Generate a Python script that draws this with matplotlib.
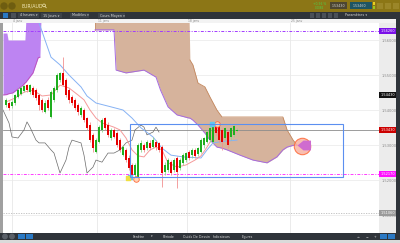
import numpy as np
import matplotlib.pyplot as plt
from matplotlib.patches import Rectangle

# bougies 4 heures EUR/AUD
opens = [1.5414, 1.5420, 1.5411, 1.5420, 1.5437, 1.5446, 1.5454, 1.5471, 1.5451, 1.5463,
         1.5457, 1.5443, 1.5429, 1.5394, 1.5429, 1.5380, 1.5429, 1.5457, 1.5486, 1.5506,
         1.5486, 1.5457, 1.5437, 1.5429, 1.5414, 1.5386, 1.5400, 1.5377, 1.5357, 1.5329,
         1.5280, 1.5309, 1.5343, 1.5377, 1.5357, 1.5320, 1.5343, 1.5334, 1.5314, 1.5271,
         1.5286, 1.5263, 1.5243, 1.5214, 1.5209, 1.5286, 1.5300, 1.5291, 1.5306, 1.5294,
         1.5309, 1.5306, 1.5294, 1.5223, 1.5229, 1.5251, 1.5229, 1.5263, 1.5234, 1.5249,
         1.5257, 1.5280, 1.5271, 1.5286, 1.5274, 1.5280, 1.5300, 1.5309, 1.5314, 1.5309,
         1.5351, 1.5357, 1.5343, 1.5320, 1.5337, 1.5323, 1.5329, 1.5340]
highs = [1.5434, 1.5426, 1.5429, 1.5446, 1.5463, 1.5469, 1.5471, 1.5474, 1.5474, 1.5469,
         1.5463, 1.5446, 1.5434, 1.5429, 1.5437, 1.5457, 1.5469, 1.5506, 1.5509, 1.5551,
         1.5491, 1.5463, 1.5443, 1.5434, 1.5420, 1.5411, 1.5406, 1.5380, 1.5366, 1.5334,
         1.5320, 1.5357, 1.5377, 1.5380, 1.5366, 1.5349, 1.5349, 1.5340, 1.5320, 1.5300,
         1.5291, 1.5271, 1.5249, 1.5249, 1.5306, 1.5314, 1.5306, 1.5314, 1.5314, 1.5323,
         1.5314, 1.5309, 1.5300, 1.5251, 1.5263, 1.5257, 1.5263, 1.5269, 1.5263, 1.5277,
         1.5280, 1.5286, 1.5291, 1.5291, 1.5294, 1.5320, 1.5323, 1.5343, 1.5351, 1.5366,
         1.5357, 1.5363, 1.5349, 1.5351, 1.5343, 1.5351, 1.5357, 1.5349]
lows = [1.5409, 1.5400, 1.5406, 1.5414, 1.5434, 1.5443, 1.5451, 1.5451, 1.5446, 1.5437,
        1.5429, 1.5400, 1.5394, 1.5391, 1.5400, 1.5377, 1.5423, 1.5451, 1.5480, 1.5469,
        1.5437, 1.5420, 1.5414, 1.5400, 1.5386, 1.5380, 1.5366, 1.5343, 1.5309, 1.5280,
        1.5277, 1.5306, 1.5337, 1.5343, 1.5323, 1.5314, 1.5320, 1.5294, 1.5280, 1.5269,
        1.5251, 1.5229, 1.5206, 1.5209, 1.5206, 1.5280, 1.5280, 1.5286, 1.5286, 1.5291,
        1.5286, 1.5280, 1.5180, 1.5214, 1.5223, 1.5214, 1.5223, 1.5177, 1.5229, 1.5243,
        1.5251, 1.5257, 1.5263, 1.5263, 1.5269, 1.5277, 1.5291, 1.5306, 1.5309, 1.5306,
        1.5329, 1.5309, 1.5286, 1.5314, 1.5291, 1.5314, 1.5323, 1.5337]
closes = [1.5429, 1.5406, 1.5423, 1.5443, 1.5457, 1.5463, 1.5469, 1.5457, 1.5471, 1.5443,
          1.5434, 1.5414, 1.5400, 1.5420, 1.5406, 1.5451, 1.5463, 1.5500, 1.5506, 1.5471,
          1.5443, 1.5429, 1.5420, 1.5406, 1.5394, 1.5406, 1.5371, 1.5349, 1.5314, 1.5291,
          1.5314, 1.5351, 1.5371, 1.5349, 1.5329, 1.5343, 1.5323, 1.5300, 1.5286, 1.5294,
          1.5257, 1.5234, 1.5209, 1.5243, 1.5300, 1.5306, 1.5286, 1.5309, 1.5291, 1.5314,
          1.5294, 1.5286, 1.5220, 1.5243, 1.5257, 1.5220, 1.5257, 1.5223, 1.5257, 1.5271,
          1.5277, 1.5263, 1.5286, 1.5269, 1.5291, 1.5314, 1.5320, 1.5337, 1.5349, 1.5357,
          1.5334, 1.5314, 1.5309, 1.5349, 1.5300, 1.5349, 1.5354, 1.5343]

# Ichimoku : tenkan (rose), kijun (bleu), chikou (gris)
tenkan_idx = [0, 3, 6, 9, 12, 15, 18, 21, 24, 26, 28, 30, 32, 36, 38, 40, 42, 44, 46, 48,
              50, 52, 54, 57, 60, 63, 65, 67, 69, 71, 74, 77]
tenkan = [1.5423, 1.5434, 1.5451, 1.5457, 1.5440, 1.5443, 1.5471, 1.5463, 1.5443, 1.5429,
          1.5400, 1.5377, 1.5363, 1.5351, 1.5343, 1.5320, 1.5286, 1.5269, 1.5266, 1.5286,
          1.5294, 1.5286, 1.5249, 1.5237, 1.5243, 1.5257, 1.5269, 1.5294, 1.5323, 1.5337,
          1.5337, 1.5337]
kijun_idx = [11, 13, 15, 18, 21, 25, 27, 30, 35, 39, 42, 45, 49, 52, 55, 59, 65, 67, 69, 73, 77]
kijun = [1.5649, 1.5600, 1.5551, 1.5529, 1.5500, 1.5466, 1.5440, 1.5420, 1.5409, 1.5400,
         1.5377, 1.5349, 1.5323, 1.5291, 1.5271, 1.5266, 1.5263, 1.5286, 1.5306, 1.5311, 1.5314]
chikou_idx = [-1, 1, 2, 4, 6, 7, 8, 10, 11, 13, 15, 16, 18, 20, 21, 22, 25, 26, 27, 29,
              30, 32, 34, 36, 38, 40, 42, 43, 45, 46, 47, 49, 50, 51]
chikou = [1.5400, 1.5363, 1.5323, 1.5320, 1.5343, 1.5366, 1.5351, 1.5314, 1.5306, 1.5306,
          1.5286, 1.5277, 1.5220, 1.5257, 1.5294, 1.5314, 1.5306, 1.5271, 1.5220, 1.5237,
          1.5257, 1.5251, 1.5277, 1.5277, 1.5286, 1.5306, 1.5314, 1.5343, 1.5357, 1.5351,
          1.5329, 1.5337, 1.5351, 1.5337]

# nuage violet (gauche)
kumo1_idx = [-1, 0.3, 0.7, 2.3, 5.7, 6.3, 6.7, 9, 10.7, 11.3, 11.7]
kumo1_top = [1.5620, 1.5620, 1.5600, 1.5600, 1.5600, 1.5600, 1.5671, 1.5671, 1.5671, 1.5671, 1.5671]
kumo1_bot = [1.5443, 1.5444, 1.5446, 1.5449, 1.5471, 1.5477, 1.5480, 1.5506, 1.5549, 1.5551, 1.5671]
# nuage brun
kumo2_idx = [29.7, 36, 36.7, 40, 46, 50, 51.5, 54, 57, 61, 61.3, 62.3, 64, 66.3, 68, 70.3,
             72, 73.7, 78, 82.3, 87, 90.3, 92.3, 93.7, 95.7, 97]
kumo2_top = [1.5671, 1.5671, 1.5671, 1.5671, 1.5671, 1.5671, 1.5671, 1.5671, 1.5671, 1.5671,
             1.5543, 1.5529, 1.5477, 1.5466, 1.5437, 1.5400, 1.5380, 1.5380, 1.5380, 1.5380,
             1.5380, 1.5380, 1.5380, 1.5343, 1.5314, 1.5300]
kumo2_bot = [1.5629, 1.5629, 1.5514, 1.5506, 1.5514, 1.5494, 1.5457, 1.5409, 1.5386, 1.5377,
             1.5377, 1.5371, 1.5357, 1.5334, 1.5314, 1.5294, 1.5291, 1.5286, 1.5271, 1.5257,
             1.5249, 1.5266, 1.5286, 1.5294, 1.5299, 1.5300]
# petit nuage après le croisement
kumo3_idx = [97, 99, 101.5]
kumo3_top = [1.5300, 1.5314, 1.5314]
kumo3_bot = [1.5300, 1.5286, 1.5286]

price_levels = [1.56, 1.55, 1.54, 1.53, 1.52, 1.51]
date_pos = [2, 30.3, 60.3, 94.7]
date_labels = ['4 janv', '11 janv', '18 janv', '25 janv']
box_zone = [41.3, 1.5209, 112.3, 1.5360]

W, H = 400, 243
fig = plt.figure(figsize=(4, 2.43), dpi=100)
bg = fig.add_axes([0, 0, 1, 1])
bg.set_xlim(0, W)
bg.set_ylim(H, 0)
bg.axis('off')


def box(x, y, w, h, c):
    bg.add_patch(Rectangle((x, y), w, h, color=c, lw=0))


def txt(x, y, s, c='#d8d8d8', fs=2.6, **kw):
    bg.text(x, y, s, color=c, fontsize=fs, va='center', **kw)


# habillage de la plateforme
box(0, 0, W, H, '#dadada')
box(0, 0, W, 12, '#8c7616')
box(0, 12, W, 7, '#2f343a')
box(0, 19, 396, 4, '#f3f3f3')
box(0, 23, 3, 210, '#a0a0a0')
box(379, 23, 17, 210, '#ececec')
box(396, 12, 4, 228, '#2f343a')
box(0, 233, W, 7, '#2f343a')

for cx in [4, 12]:
    bg.add_patch(plt.Circle((cx, 6), 3, color='#6e5d10'))
txt(21, 6, 'EUR/AUD', c='#f3e9b8', fs=3.4)
# loupe de recherche
bg.add_patch(plt.Circle((44, 5.4), 1.4, fill=False, ec='#f3e9b8', lw=0.5))
bg.plot([45, 46.3], [6.5, 7.8], color='#f3e9b8', lw=0.5)
txt(313, 4.3, '+0,56 %', c='#4cd24c', fs=2.2)
txt(315, 8, '0,0086', c='#4cd24c', fs=2.0)
box(330, 2.5, 17, 7, '#4d4631')
txt(332, 6, '1,53430', fs=2.3)
box(350, 2.5, 22, 7, '#1f5563')
txt(353, 6, '1,53460', fs=2.3)
box(373, 2.5, 2, 3, '#e8d020')
box(373, 6.5, 2, 3, '#9ac820')
for bx in [377, 385, 393]:
    box(bx, 3, 6, 6, '#9b8629')

box(3, 13, 5, 5, '#2a79c4')
box(11, 13, 5, 5, '#4a5058')
tb_items = [(20, '4 heures ▾'), (43, '15 Jours ▾'), (72, 'Modèles ▾'), (100, 'Cours Moyen ▾')]
for tx, s in tb_items:
    box(tx - 2, 13, len(s) * 1.9 + 2, 5, '#3c4249')
    txt(tx, 15.5, s, fs=2.4)
for bx in range(310, 340, 6):
    box(bx, 13, 4, 5, '#4a5058')
txt(345, 15.5, 'Paramètres ▾', fs=2.4)

for cx in [5, 12]:
    bg.add_patch(plt.Circle((cx, 236.5), 2.2, color='#5a6068'))
box(18, 234, 7, 5, '#2a79c4')
box(26, 234, 7, 5, '#2a79c4')
for tx, s in [(133, 'Fenêtre'), (151, '▾'), (163, 'Période'), (183, 'Outils De Dessin'),
              (213, 'Indicateurs'), (242, 'Figures')]:
    txt(tx, 236.5, s, fs=2.3)
txt(357, 236.5, '⚠', fs=2.3)
txt(366, 236.5, '−', fs=2.3)
txt(374, 236.5, '+', fs=2.3)
box(380, 234, 7, 5, '#2a79c4')
box(388, 234, 7, 5, '#2a79c4')

# graphique principal
ax = fig.add_axes([3 / W, 1 - 233 / H, 376 / W, 210 / H])
ax.set_facecolor('white')
ax.set_xlim(-1, 124.33)
ax.set_ylim(1.50486, 1.56486)
for s in ax.spines.values():
    s.set_visible(False)
ax.set_xticks([])
ax.yaxis.tick_right()
ax.set_yticks(price_levels)
ax.set_yticklabels([f'{p:.5f}' for p in price_levels])
ax.tick_params(axis='y', length=0, labelsize=2.6, labelcolor='#8a8a8a', pad=2)

for p in price_levels:
    ax.axhline(p, color='#ececec', lw=0.6, zorder=0)
for xp, lab in zip(date_pos, date_labels):
    ax.axvline(xp, color='#e8e8e8', lw=0.6, zorder=0)
    bg.text(3 + (xp + 1) * 376 / 125.33 + 1, 21, lab, fontsize=2.2, color='#888', va='center')

ax.fill_between(kumo1_idx, kumo1_bot, kumo1_top, color='#bd84f2', lw=0, zorder=1)
ax.plot(kumo1_idx[:-1], kumo1_bot[:-1], color='#c050b8', lw=0.6, zorder=2)
ax.fill_between(kumo2_idx, kumo2_bot, kumo2_top, color='#d6b39c', lw=0, zorder=1)
ax.plot(kumo2_idx[10:], kumo2_top[10:], color='#c4885e', lw=0.6, zorder=2)
ax.plot([kumo2_idx[0], kumo2_idx[0]], [kumo2_bot[0], kumo2_top[0]], color='#c4885e', lw=0.6, zorder=2)
ax.plot(kumo2_idx, kumo2_bot, color='#a56ae0', lw=0.7, zorder=2)

ax.axhline(1.5626, color='#a23cff', lw=0.7, ls=(0, (3, 1.5, 1, 1.5)), zorder=2)
ax.axhline(1.5217, color='#ff3cff', lw=0.7, ls=(0, (3, 1.5, 1, 1.5)), zorder=2)
ax.axhline(1.5106, color='#bcbcbc', lw=0.6, ls=(0, (1.5, 1.5)), zorder=2)
ax.axhline(closes[-1], color='#8c8c8c', lw=0.6, zorder=2)

ax.plot(chikou_idx, chikou, color='#6a6a6a', lw=0.5, zorder=3)
ax.plot(kijun_idx, kijun, color='#86b2f4', lw=0.7, zorder=3)
ax.plot(tenkan_idx, tenkan, color='#f59a9a', lw=0.7, zorder=3)

idx = np.arange(len(opens))
o = np.array(opens)
c = np.array(closes)
up = c >= o
ax.vlines(idx[up], np.array(lows)[up], np.array(highs)[up], color='#8fd88f', lw=0.6, zorder=4)
ax.vlines(idx[~up], np.array(lows)[~up], np.array(highs)[~up], color='#f39090', lw=0.6, zorder=4)
ax.bar(idx, np.maximum(np.abs(c - o), 0.0002), bottom=np.minimum(o, c), width=0.7,
       color=np.where(up, '#1fae1f', '#e60000'), lw=0, zorder=5)

ax.fill_between(kumo3_idx, kumo3_bot, kumo3_top, color='#cf6ccf', lw=0, zorder=6)
ax.scatter([98.7], [1.5297], s=140, facecolor='#f7b3a2', edgecolor='#ff6b3a', lw=0.8, alpha=0.85, zorder=5)
ax.scatter([70.2, 43.3], [1.5360, 1.5203], s=16, facecolor='#ffd4b8', edgecolor='#ff6b3a', lw=0.6, zorder=7)
ax.scatter([68.8, 41.3], [1.5360, 1.5209], s=6, marker='s', color='#5ec8f0', zorder=7)
ax.scatter([40.8], [1.5205], s=5, marker='s', color='#f0e040', zorder=7)

ax.add_patch(Rectangle((box_zone[0], box_zone[1]), box_zone[2] - box_zone[0],
                       box_zone[3] - box_zone[1], fill=False, ec='#5b8ff0', lw=0.8, zorder=8))

tags = [(1.5626, '1.56260', '#7a10e8'), (1.5443, '1.54430', '#111111'),
        (closes[-1], '1.53430', '#cc0000'), (1.5217, '1.52170', '#ff10ff'),
        (1.5106, '1.51060', '#9a9a9a')]
for p, s, col in tags:
    ax.text(1.003, p, s, transform=ax.get_yaxis_transform(), fontsize=2.5, color='white',
            va='center', ha='left', clip_on=False,
            bbox=dict(boxstyle='square,pad=0.25', fc=col, ec='none'))

fig.savefig('out.png', dpi=100)
